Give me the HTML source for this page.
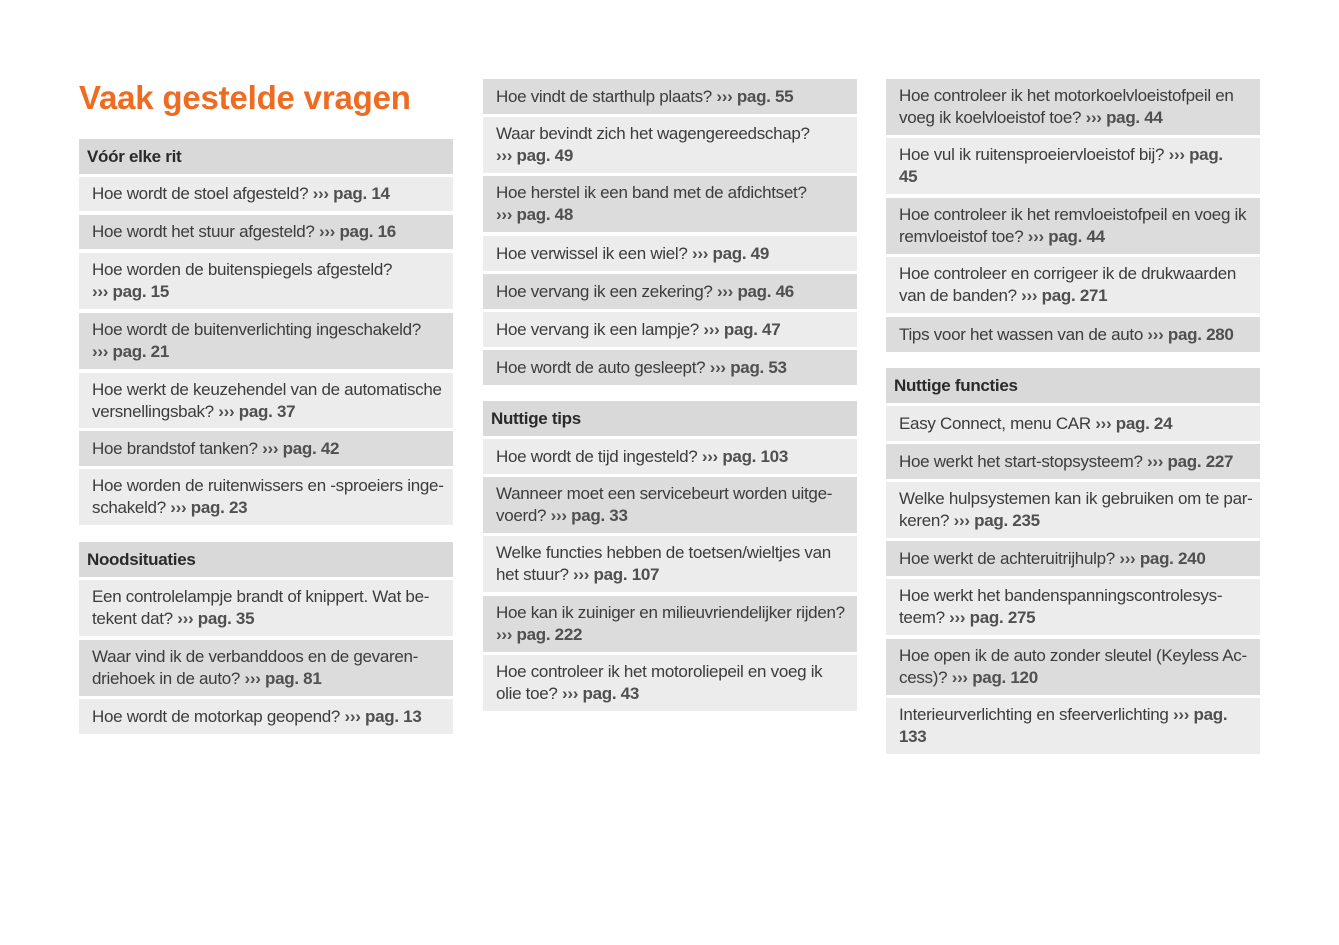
<!DOCTYPE html>
<html><head><meta charset="utf-8"><style>
body{margin:0;width:1339px;height:945px;background:#fff;position:relative;overflow:hidden;font-family:"Liberation Sans",sans-serif;color:#3c3c3c}
.t{position:absolute;left:79px;top:79px;font-size:33px;font-weight:bold;color:#ee6b21;letter-spacing:-0.2px;white-space:nowrap}
.r{position:absolute;width:374px;box-sizing:border-box;padding-left:13px;display:flex;flex-direction:column;justify-content:center;font-size:17px;letter-spacing:-0.3px;line-height:22px;white-space:nowrap}
.r b{color:#505050}
.h{padding-left:8px;font-weight:bold;background:#d9d9da;color:#2a2a2a}
.d{background:#dcdcdd}.l{background:#ececed}
</style></head><body>
<div class="t">Vaak gestelde vragen</div>

<div class="r h" style="left:79px;top:139px;height:35px">Vóór elke rit</div>
<div class="r l" style="left:79px;top:177px;height:34px"><span>Hoe wordt de stoel afgesteld? <b>››› pag. 14</b></span></div>
<div class="r d" style="left:79px;top:215px;height:34px"><span>Hoe wordt het stuur afgesteld? <b>››› pag. 16</b></span></div>
<div class="r l" style="left:79px;top:253px;height:56px"><span>Hoe worden de buitenspiegels afgesteld?<br><b>››› pag. 15</b></span></div>
<div class="r d" style="left:79px;top:313px;height:56px"><span>Hoe wordt de buitenverlichting ingeschakeld?<br><b>››› pag. 21</b></span></div>
<div class="r l" style="left:79px;top:373px;height:55px"><span>Hoe werkt de keuzehendel van de automatische<br>versnellingsbak? <b>››› pag. 37</b></span></div>
<div class="r d" style="left:79px;top:431px;height:35px"><span>Hoe brandstof tanken? <b>››› pag. 42</b></span></div>
<div class="r l" style="left:79px;top:469px;height:56px"><span>Hoe worden de ruitenwissers en -sproeiers inge-<br>schakeld? <b>››› pag. 23</b></span></div>

<div class="r h" style="left:79px;top:542px;height:35px">Noodsituaties</div>
<div class="r l" style="left:79px;top:580px;height:56px"><span>Een controlelampje brandt of knippert. Wat be-<br>tekent dat? <b>››› pag. 35</b></span></div>
<div class="r d" style="left:79px;top:640px;height:56px"><span>Waar vind ik de verbanddoos en de gevaren-<br>driehoek in de auto? <b>››› pag. 81</b></span></div>
<div class="r l" style="left:79px;top:699px;height:35px"><span>Hoe wordt de motorkap geopend? <b>››› pag. 13</b></span></div>

<div class="r d" style="left:483px;top:79px;height:35px"><span>Hoe vindt de starthulp plaats? <b>››› pag. 55</b></span></div>
<div class="r l" style="left:483px;top:117px;height:56px"><span>Waar bevindt zich het wagengereedschap?<br><b>››› pag. 49</b></span></div>
<div class="r d" style="left:483px;top:176px;height:56px"><span>Hoe herstel ik een band met de afdichtset?<br><b>››› pag. 48</b></span></div>
<div class="r l" style="left:483px;top:236px;height:35px"><span>Hoe verwissel ik een wiel? <b>››› pag. 49</b></span></div>
<div class="r d" style="left:483px;top:274px;height:35px"><span>Hoe vervang ik een zekering? <b>››› pag. 46</b></span></div>
<div class="r l" style="left:483px;top:312px;height:35px"><span>Hoe vervang ik een lampje? <b>››› pag. 47</b></span></div>
<div class="r d" style="left:483px;top:350px;height:35px"><span>Hoe wordt de auto gesleept? <b>››› pag. 53</b></span></div>

<div class="r h" style="left:483px;top:401px;height:35px">Nuttige tips</div>
<div class="r l" style="left:483px;top:439px;height:35px"><span>Hoe wordt de tijd ingesteld? <b>››› pag. 103</b></span></div>
<div class="r d" style="left:483px;top:477px;height:56px"><span>Wanneer moet een servicebeurt worden uitge-<br>voerd? <b>››› pag. 33</b></span></div>
<div class="r l" style="left:483px;top:536px;height:56px"><span>Welke functies hebben de toetsen/wieltjes van<br>het stuur? <b>››› pag. 107</b></span></div>
<div class="r d" style="left:483px;top:596px;height:56px"><span>Hoe kan ik zuiniger en milieuvriendelijker rijden?<br><b>››› pag. 222</b></span></div>
<div class="r l" style="left:483px;top:655px;height:56px"><span>Hoe controleer ik het motoroliepeil en voeg ik<br>olie toe? <b>››› pag. 43</b></span></div>

<div class="r d" style="left:886px;top:79px;height:56px"><span>Hoe controleer ik het motorkoelvloeistofpeil en<br>voeg ik koelvloeistof toe? <b>››› pag. 44</b></span></div>
<div class="r l" style="left:886px;top:138px;height:56px"><span>Hoe vul ik ruitensproeiervloeistof bij? <b>››› pag.<br>45</b></span></div>
<div class="r d" style="left:886px;top:198px;height:56px"><span>Hoe controleer ik het remvloeistofpeil en voeg ik<br>remvloeistof toe? <b>››› pag. 44</b></span></div>
<div class="r l" style="left:886px;top:257px;height:56px"><span>Hoe controleer en corrigeer ik de drukwaarden<br>van de banden? <b>››› pag. 271</b></span></div>
<div class="r d" style="left:886px;top:317px;height:35px"><span>Tips voor het wassen van de auto <b>››› pag. 280</b></span></div>

<div class="r h" style="left:886px;top:368px;height:35px">Nuttige functies</div>
<div class="r l" style="left:886px;top:406px;height:35px"><span>Easy Connect, menu CAR <b>››› pag. 24</b></span></div>
<div class="r d" style="left:886px;top:444px;height:35px"><span>Hoe werkt het start-stopsysteem? <b>››› pag. 227</b></span></div>
<div class="r l" style="left:886px;top:482px;height:56px"><span>Welke hulpsystemen kan ik gebruiken om te par-<br>keren? <b>››› pag. 235</b></span></div>
<div class="r d" style="left:886px;top:541px;height:35px"><span>Hoe werkt de achteruitrijhulp? <b>››› pag. 240</b></span></div>
<div class="r l" style="left:886px;top:579px;height:56px"><span>Hoe werkt het bandenspanningscontrolesys-<br>teem? <b>››› pag. 275</b></span></div>
<div class="r d" style="left:886px;top:639px;height:56px"><span>Hoe open ik de auto zonder sleutel (Keyless Ac-<br>cess)? <b>››› pag. 120</b></span></div>
<div class="r l" style="left:886px;top:698px;height:56px"><span>Interieurverlichting en sfeerverlichting <b>››› pag.<br>133</b></span></div>
</body></html>
